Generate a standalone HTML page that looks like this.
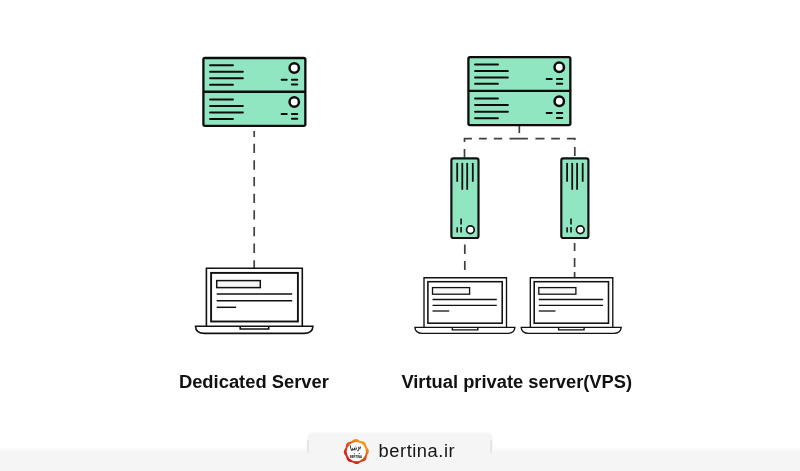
<!DOCTYPE html>
<html><head><meta charset="utf-8">
<style>
html,body{margin:0;padding:0;background:#fff;}
body{width:800px;height:471px;overflow:hidden;position:relative;font-family:"Liberation Sans",sans-serif;}
svg{position:absolute;left:0;top:0;will-change:transform;}
</style></head><body>
<svg width="800" height="471" viewBox="0 0 800 471">
<defs>
<!-- rack: origin = outer top-left; outer size 103 x 69.8 -->
<g id="rack">
  <rect x="1.15" y="1.15" width="101.95" height="67.9" rx="1.6" fill="#90e6c1" stroke="#0c0c0c" stroke-width="2.3"/>
  <line x1="1" y1="34.9" x2="103" y2="34.9" stroke="#0c0c0c" stroke-width="2.3"/>
  <g stroke="#0c0c0c" stroke-width="2" stroke-linecap="round">
    <line x1="7.8" y1="8.4" x2="30.7" y2="8.4"/><line x1="7.8" y1="15" x2="40.6" y2="15"/><line x1="7.8" y1="21.5" x2="40.6" y2="21.5"/><line x1="7.8" y1="27.8" x2="30.7" y2="27.8"/>
    <line x1="7.8" y1="42.6" x2="30.7" y2="42.6"/><line x1="7.8" y1="49.1" x2="40.6" y2="49.1"/><line x1="7.8" y1="55.7" x2="40.6" y2="55.7"/><line x1="7.8" y1="62.2" x2="30.7" y2="62.2"/>
    <line x1="79.4" y1="23" x2="84.5" y2="23"/><line x1="89.6" y1="23" x2="95" y2="23"/><line x1="89.6" y1="27.7" x2="95" y2="27.7"/>
    <line x1="79.4" y1="57.1" x2="84.5" y2="57.1"/><line x1="89.6" y1="57.1" x2="95" y2="57.1"/><line x1="89.6" y1="62" x2="95" y2="62"/>
  </g>
  <circle cx="92" cy="11.2" r="4.7" fill="#fff" stroke="#0c0c0c" stroke-width="2.5"/>
  <circle cx="92" cy="45.2" r="4.7" fill="#fff" stroke="#0c0c0c" stroke-width="2.5"/>
</g>
<!-- tower: origin = outer top-left; outer 29.2 x 81.3 -->
<g id="tower">
  <rect x="1.1" y="1.1" width="27.1" height="79.6" rx="2" fill="#90e6c1" stroke="#111" stroke-width="2.2"/>
  <g stroke="#111" stroke-width="1.8" stroke-linecap="round">
    <line x1="6.9" y1="6.3" x2="6.9" y2="23.8"/><line x1="12" y1="6.3" x2="12" y2="31.8"/><line x1="16.9" y1="6.3" x2="16.9" y2="31.8"/><line x1="22.5" y1="6.3" x2="22.5" y2="23.8"/>
  </g>
  <g stroke="#111" stroke-width="1.6" stroke-linecap="butt">
    <line x1="6.9" y1="70" x2="6.9" y2="75.1"/><line x1="10.8" y1="61.2" x2="10.8" y2="67.3"/><line x1="10.8" y1="69.7" x2="10.8" y2="75.1"/>
  </g>
  <circle cx="20.1" cy="72.5" r="3.85" fill="#fff" stroke="#111" stroke-width="1.7"/>
</g>
<!-- big laptop: origin = outer frame top-left centerline (206.1,268) -->
<g id="lapL" fill="none" stroke="#111" stroke-width="1.6">
  <path d="M0 57.9V0H95.9V57.9" fill="#fff"/>
  <rect x="4.7" y="4.6" width="86.8" height="48.6" fill="#fff" stroke-width="1.9"/>
  <path d="M-10.9 57.9H106.5Q106.3 65.1 97.3 65.1H-1.7Q-10.7 65.1 -10.9 57.9Z" fill="#fff"/>
  <path d="M33.8 57.9V60.7H62.3V57.9"/>
  <rect x="10.3" y="12.3" width="43.6" height="7" fill="#f8f8f8" stroke-width="1.5"/>
  <line x1="10.3" y1="25.6" x2="85.8" y2="25.6" stroke-width="1.5"/>
  <line x1="10.3" y1="32.4" x2="85.8" y2="32.4" stroke-width="1.5"/>
  <line x1="10.3" y1="39" x2="29.8" y2="39" stroke-width="1.5"/>
</g>
<!-- small laptop: origin = outer frame top-left (424,277.7) -->
<g id="lapS" fill="none" stroke="#111" stroke-width="1.35">
  <path d="M0 49.7V0H82.5V49.7" fill="#fff"/>
  <rect x="3.9" y="4" width="74.3" height="41.5" fill="#fff" stroke-width="1.55"/>
  <path d="M-9.1 49.7H90.9Q90.5 55.7 83.4 55.7H-1.6Q-8.7 55.7 -9.1 49.7Z" fill="#fff"/>
  <path d="M28.3 49.7V52.2H53.8V49.7"/>
  <rect x="8.5" y="9.9" width="37.1" height="6.6" fill="#f8f8f8" stroke-width="1.3"/>
  <line x1="8.5" y1="21.8" x2="72.8" y2="21.8" stroke-width="1.3"/>
  <line x1="8.5" y1="27.6" x2="72.8" y2="27.6" stroke-width="1.3"/>
  <line x1="8.5" y1="33.3" x2="25.2" y2="33.3" stroke-width="1.3"/>
</g>
<linearGradient id="lg" x1="0.85" y1="0.05" x2="0.15" y2="0.95">
  <stop offset="0.1" stop-color="#f39c1c"/><stop offset="0.5" stop-color="#e04a1c"/><stop offset="0.9" stop-color="#cf1f1a"/>
</linearGradient>
<linearGradient id="bar" x1="0" y1="0" x2="0" y2="1"><stop offset="0" stop-color="#fff"/><stop offset="0.19" stop-color="#f5f5f5"/><stop offset="1" stop-color="#f5f5f5"/></linearGradient>
<filter id="b1" x="-5%" y="-20%" width="110%" height="140%"><feGaussianBlur stdDeviation="1"/></filter>
<filter id="b2" x="-50%" y="-20%" width="200%" height="140%"><feGaussianBlur stdDeviation="0.5"/></filter>
</defs>
<rect width="800" height="471" fill="#fff"/>

<!-- bottom bar -->
<rect x="0" y="447" width="800" height="24" fill="url(#bar)"/>
<path d="M297 451Q305.5 450 306.5 441V438Q306.5 432 312.5 432H487Q493 432 493 438V441Q494 450 503.5 451Z" fill="#fafafa" filter="url(#b1)"/>
<path d="M308 452V438Q308 432.6 313.4 432.6H486.6Q492 432.6 492 438V452Z" fill="#f5f5f5" filter="url(#b2)"/>
<rect x="307.2" y="440" width="1.8" height="12.5" fill="#e3e3e3" filter="url(#b2)"/>
<rect x="490.3" y="440" width="1.8" height="12.5" fill="#e3e3e3" filter="url(#b2)"/>

<!-- dashed connectors -->
<g stroke="#404040" stroke-width="1.7" fill="none">
  <path d="M254.2 131V137"/>
  <path d="M254.2 143.7V268" stroke-dasharray="9.3 7.35"/>
  <path d="M519.3 126V133.1"/>
  <path d="M464.5 141.9V138.7H471.9M478.9 138.7H486.8M493.8 138.7H502.2M509.5 138.7H527.9M535.4 138.7H544.5M551.2 138.7H559.9M566.9 138.7H574.8V140"/>
  <path d="M464.5 148.9V157.5M574.8 147.1V155.9"/>
  <path d="M464.8 244.6V254M464.8 261V270"/>
  <path d="M574.6 243V251M574.6 258V267M574.6 272V277.4"/>
</g>

<use href="#rack" x="202.25" y="56.85"/>
<use href="#rack" x="467.25" y="56"/>
<use href="#tower" x="450.3" y="157.3"/>
<use href="#tower" x="560.2" y="157.3"/>
<use href="#lapL" x="206.4" y="268.3"/>
<use href="#lapS" x="424" y="277.7"/>
<use href="#lapS" x="530.3" y="277.7"/>

<g font-family="'Liberation Sans',sans-serif" font-weight="bold" font-size="18.35" fill="#111">
  <text x="178.9" y="388.1" textLength="150" lengthAdjust="spacingAndGlyphs">Dedicated Server</text>
  <text x="401.4" y="388.3" textLength="230.7" lengthAdjust="spacingAndGlyphs">Virtual private server(VPS)</text>
</g>

<!-- logo -->
<g>
  <path d="M368.8 451.6L368.6 452.4L368.3 453.2L367.9 453.9L367.5 454.6L367.1 455.3L366.9 456.0L366.8 456.8L366.6 457.6L366.5 458.4L366.2 459.2L365.7 459.9L365.1 460.4L364.4 460.9L363.6 461.2L362.8 461.4L362.1 461.6L361.4 461.9L360.7 462.2L360.1 462.6L359.4 463.1L358.7 463.6L357.9 463.9L357.1 464.1L356.3 464.1L355.5 463.9L354.7 463.6L354.0 463.2L353.3 462.8L352.6 462.4L351.9 462.2L351.1 462.1L350.3 461.9L349.5 461.8L348.7 461.5L348.0 461.0L347.5 460.4L347.0 459.7L346.7 458.9L346.5 458.1L346.3 457.4L346.0 456.7L345.7 456.0L345.3 455.4L344.8 454.7L344.3 454.0L344.0 453.2L343.8 452.4L343.8 451.6L344.0 450.8L344.3 450.0L344.7 449.3L345.1 448.6L345.5 447.9L345.7 447.2L345.8 446.4L346.0 445.6L346.1 444.8L346.4 444.0L346.9 443.3L347.5 442.8L348.2 442.3L349.0 442.0L349.8 441.8L350.5 441.6L351.2 441.3L351.9 441.0L352.5 440.6L353.2 440.1L353.9 439.6L354.7 439.3L355.5 439.1L356.3 439.1L357.1 439.3L357.9 439.6L358.6 440.0L359.3 440.4L360.0 440.8L360.7 441.0L361.5 441.1L362.3 441.3L363.1 441.4L363.9 441.7L364.6 442.2L365.1 442.8L365.6 443.5L365.9 444.3L366.1 445.1L366.3 445.8L366.6 446.5L366.9 447.2L367.3 447.8L367.8 448.5L368.3 449.2L368.6 450.0L368.8 450.8Z" fill="url(#lg)"/>
  <circle cx="356.3" cy="451.6" r="9.6" fill="#fff"/>
  <text transform="translate(356 449.6) rotate(-14) scale(0.82 1.5)" x="0" y="0" font-family="'DejaVu Sans',sans-serif" font-weight="bold" font-size="5.2" text-anchor="middle" fill="#111">برتینا</text>
  <circle cx="354.4" cy="453.7" r="0.55" fill="#111"/><circle cx="359.2" cy="453.5" r="0.55" fill="#111"/>
  <text x="355.9" y="457.9" font-family="'Liberation Sans',sans-serif" font-weight="bold" font-size="2.8" text-anchor="middle" fill="#111">BERTINA</text>
</g>
<text x="378.6" y="456.8" font-family="'Liberation Sans',sans-serif" font-size="18.3" fill="#151515" textLength="76" lengthAdjust="spacing">bertina.ir</text>
</svg>
</body></html>
